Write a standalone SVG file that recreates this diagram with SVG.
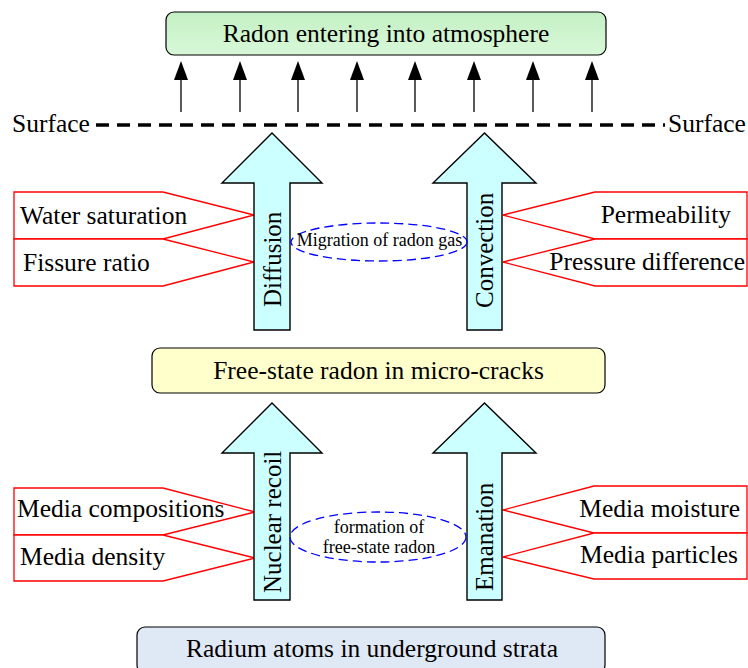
<svg xmlns="http://www.w3.org/2000/svg" width="748" height="668" viewBox="0 0 748 668">
<defs>
<style>
.t{font-family:"Liberation Serif","Times New Roman",serif;font-size:25.5px;fill:#000}
.s{font-family:"Liberation Serif","Times New Roman",serif;font-size:18px;fill:#000}
.v{font-family:"Liberation Serif","Times New Roman",serif;font-size:25px;fill:#000}
.box{stroke:#000;stroke-width:1.2}
.big{fill:#ccffff;stroke:#000;stroke-width:1.4}
.pent{fill:#fff;stroke:#ff0000;stroke-width:1.3}
.ell{fill:none;stroke:#0000ff;stroke-width:1.3;stroke-dasharray:9 5}
.up{stroke:#000;stroke-width:1.3}
.hd{fill:#000}
</style>
<linearGradient id="gg" x1="0" y1="0" x2="0" y2="1"><stop offset="0" stop-color="#c4f0c4"/><stop offset="1" stop-color="#d8f8d8"/></linearGradient>
</defs>

<g id="atmosphere">
<rect class="box" x="166" y="12" width="440" height="43" rx="8" fill="url(#gg)"/>
<text class="t" x="386" y="42" text-anchor="middle">Radon entering into atmosphere</text>
</g>

<g id="connectors">
<line class="up" x1="181" y1="112" x2="181" y2="78"/><polygon class="hd" points="181,61 174,80 188,80"/>
<line class="up" x1="240" y1="112" x2="240" y2="78"/><polygon class="hd" points="240,61 233,80 247,80"/>
<line class="up" x1="298" y1="112" x2="298" y2="78"/><polygon class="hd" points="298,61 291,80 305,80"/>
<line class="up" x1="357" y1="112" x2="357" y2="78"/><polygon class="hd" points="357,61 350,80 364,80"/>
<line class="up" x1="415" y1="112" x2="415" y2="78"/><polygon class="hd" points="415,61 408,80 422,80"/>
<line class="up" x1="474" y1="112" x2="474" y2="78"/><polygon class="hd" points="474,61 467,80 481,80"/>
<line class="up" x1="533" y1="112" x2="533" y2="78"/><polygon class="hd" points="533,61 526,80 540,80"/>
<line class="up" x1="592" y1="112" x2="592" y2="78"/><polygon class="hd" points="592,61 585,80 599,80"/>
</g>

<g id="surface">
<line x1="96" y1="125" x2="665" y2="125" stroke="#000" stroke-width="3.5" stroke-dasharray="13 8"/>
<text class="t" x="12" y="132">Surface</text>
<text class="t" x="668" y="132">Surface</text>
</g>

<g id="left-top-factors">
<polygon class="pent" points="14,192 163,192 254,215 163,239 14,239"/>
<polygon class="pent" points="14,239 163,239 254,262 163,286 14,286"/>
<text class="t" x="20" y="224">Water saturation</text>
<text class="t" x="23" y="271">Fissure ratio</text>
</g>

<g id="right-top-factors">
<polygon class="pent" points="747,192 595,192 503,215 595,239 747,239"/>
<polygon class="pent" points="747,239 595,239 503,262 595,286 747,286"/>
<text class="t" x="731" y="223" text-anchor="end">Permeability</text>
<text class="t" x="745" y="270" text-anchor="end">Pressure difference</text>
</g>

<g id="diffusion">
<polygon class="big" points="272,133 322,183 290,183 290,330 254,330 254,183 222,183"/>
<text class="v" transform="translate(281,307) rotate(-90)">Diffusion</text>
</g>

<g id="convection">
<polygon class="big" points="484.5,133 536,183 502,183 502,330 467,330 467,183 433,183"/>
<text class="v" transform="translate(493,308) rotate(-90)">Convection</text>
</g>

<g id="migration">
<ellipse class="ell" cx="379" cy="242" rx="88" ry="19"/>
<text class="s" x="379.5" y="246" text-anchor="middle">Migration of radon gas</text>
</g>

<g id="free-state">
<rect class="box" x="152" y="348" width="453" height="45" rx="8" fill="#ffffcc"/>
<text class="t" x="378.5" y="379" text-anchor="middle">Free-state radon in micro-cracks</text>
</g>

<g id="left-bottom-factors">
<polygon class="pent" points="14,488 163,488 255,512 163,535 14,535"/>
<polygon class="pent" points="14,535 163,535 255,558 163,581 14,581"/>
<text class="t" x="17" y="517">Media compositions</text>
<text class="t" x="20" y="565">Media density</text>
</g>

<g id="right-bottom-factors">
<polygon class="pent" points="747,486 594,486 503,510 594,533 747,533"/>
<polygon class="pent" points="747,533 594,533 503,557 594,579 747,579"/>
<text class="t" x="740" y="517" text-anchor="end">Media moisture</text>
<text class="t" x="738" y="563" text-anchor="end">Media particles</text>
</g>

<g id="nuclear-recoil">
<polygon class="big" points="272,403 322,453 290,453 290,600 254,600 254,453 222,453"/>
<text class="v" transform="translate(281,593) rotate(-90)">Nuclear recoil</text>
</g>

<g id="emanation">
<polygon class="big" points="484.5,403 536,453 502,453 502,600 467,600 467,453 433,453"/>
<text class="v" transform="translate(493,591) rotate(-90)">Emanation</text>
</g>

<g id="formation">
<ellipse class="ell" cx="378" cy="537" rx="88" ry="25"/>
<text class="s" x="379" y="533" text-anchor="middle">formation of</text>
<text class="s" x="379" y="553" text-anchor="middle">free-state radon</text>
</g>

<g id="radium">
<rect class="box" x="137" y="627" width="468" height="46" rx="8" fill="#dfe8f5"/>
<text class="t" x="372" y="657" text-anchor="middle">Radium atoms in underground strata</text>
</g>
</svg>
